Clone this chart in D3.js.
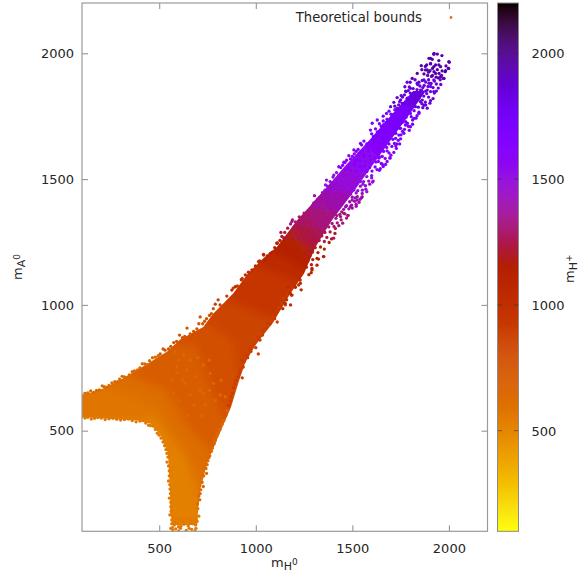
<!DOCTYPE html>
<html>
<head>
<meta charset="utf-8">
<script src="https://cdn.jsdelivr.net/npm/d3@7"></script>
<style>
body { margin: 0; background: #fff; }
text { font-family: "DejaVu Sans", sans-serif; fill: #262626; }
</style>
</head>
<body>
<svg id="main-vis" width="579" height="577"></svg>
<script>
var xTicks = [500, 1000, 1500, 2000];
var yTicks = [500, 1000, 1500, 2000];
var legendLabel = "Theoretical bounds";

// solid part of the cloud [mH0, mA0]
var massOutline = [[100,640],[209,668],[313,708],[416,755],[541,815],[608,862],[728,912],[779,965],[883,1045],[956,1122],[1039,1185],[1110,1231],[1215,1337],[1340,1443],[1460,1550],[1590,1656],[1710,1762],[1815,1850],[1880,1850],[1800,1762],[1700,1656],[1600,1550],[1500,1443],[1395,1337],[1310,1231],[1250,1125],[1175,1040],[1090,930],[1000,842],[945,770],[910,690],[872,594],[805,475],[750,375],[712,264],[700,170],[697,125],[570,125],[557,172],[556,252],[545,411],[508,483],[455,528],[385,540],[209,548],[100,553]];

// mH+ levels inside the solid part, each is the upper edge of that level
var levels = [1950, 1850, 1720, 1620, 1550, 1480, 1400, 1320, 1240, 1150, 1050, 950, 850, 780, 700, 620, 580, 530];
var levelEdges = [
  [[1000,2900],[2900,1000]],
  [[1490,2290],[2290,1490]],
  [[1400,2200],[2200,1400]],
  [[1290,2090],[2090,1290]],
  [[1210,2010],[2010,1210]],
  [[1120,1920],[1920,1120]],
  [[1050,1850],[1850,1050]],
  [[980,1780],[1780,980]],
  [[910,1710],[1710,910]],
  [[850,1650],[1650,850]],
  [[900,1300],[1300,1120]],
  [[100,1300],[997,1158],[1205,1099],[1300,1000]],
  [[100,1100],[842,1020],[1101,940],[1300,800]],
  [[100,1000],[738,932],[878,860],[920,680],[1000,500]],
  [[100,900],[556,841],[686,841],[790,622],[860,520],[1000,300]],
  [[100,760],[349,721],[531,662],[660,503],[764,423],[850,100]],
  [[100,700],[300,660],[480,600],[560,500],[640,420],[720,300],[760,100]],
  [[100,540],[420,545],[480,560],[560,470],[640,380],[700,250],[740,100]]
];

// single points, grouped by the mH+ their colour reads as
var pts1950 = [[1923,2000],[1940,1997],[1964,1991],[1897,1980],[1914,1976],[1948,1971],[2000,1967],[1885,1954],[1905,1958],[1931,1954],[1957,1947],[1997,1940],[1983,1931],[1879,1934],[1902,1931],[1923,1927],[1949,1920],[1871,1918],[1890,1912],[1910,1908],[1934,1905],[1962,1912],[1975,1900],
  [1922,1996],[1905,1980],[2002,1964],[1857,1951],[1999,1940],[1981,1927],[1971,1900],[1836,1920],[1810,1900],[1905,1960],[1922,1947],[1948,1954],[1888,1934],[1931,1920],[1957,1907],
  [1860,1935],[1878,1948],[1895,1925],[1915,1940],[1940,1935],[1965,1930],[1985,1950],[1915,1912],[1945,1902]];
var pts1850 = [[1955,1895],[1895,1895],[1925,1890],[1862,1892],[1880,1886],[1908,1880],[1935,1878],[1958,1876],[1838,1876],[1850,1870],[1872,1872],[1892,1868],[1918,1864],[1945,1862],[1795,1866],[1815,1860],[1835,1856],[1860,1852],[1880,1850],[1905,1848],[1925,1842],[1778,1848],[1800,1842],[1825,1838],[1848,1834],[1870,1830],[1895,1826],[1918,1820],[1760,1826],[1785,1822],[1808,1816],[1830,1812],[1852,1808],[1878,1806],[1902,1802],[1745,1808],[1770,1800],[1795,1796],[1818,1790],[1842,1786],[1865,1784],[1888,1782],
  [1784,1885],[1772,1867],[1776,1850],[1922,1848],[1753,1832],[1732,1824],[1715,1805],[1871,1794],[1862,1814],[1698,1788],[1871,1894],[1897,1881],[1922,1894],[1836,1881],[1853,1854],[1888,1854],[1801,1861],[1819,1834],[1845,1821],[1784,1821],[1758,1801],[1793,1795],[1827,1788],[1732,1781],
  [1800,1885],[1825,1895],[1845,1885],[1905,1868],[1935,1850],[1905,1812],[1885,1840],[1865,1864],[1770,1835],[1790,1852],[1750,1815],[1720,1790],[1740,1795],[1880,1795],[1860,1800]];
var pts1720 = [[1735,1776],[1720,1776],[1748,1772],[1772,1776],[1795,1768],[1820,1772],[1845,1766],[1700,1758],[1725,1752],[1752,1750],[1778,1746],[1805,1748],[1830,1742],[1680,1738],[1705,1730],[1732,1728],[1760,1726],[1785,1722],[1812,1718],[1662,1716],[1690,1712],[1715,1706],[1745,1702],[1770,1698],[1795,1694],[1645,1694],[1672,1690],[1698,1684],[1725,1682],[1752,1676],[1630,1672],[1655,1666],[1682,1662],[1710,1658],[1738,1654],[1608,1656],[1635,1648],[1662,1644],[1690,1640],[1718,1642],[1745,1640],
  [1845,1761],[1819,1741],[1801,1708],[1677,1761],[1660,1731],[1629,1735],[1603,1722],[1767,1682],[1741,1675],[1767,1768],[1801,1761],[1706,1755],[1741,1741],[1776,1728],[1689,1728],[1715,1708],[1750,1702],[1663,1695],[1698,1682],[1724,1662],[1594,1695],[1629,1688],[1655,1662],[1611,1649],[1560,1651],[1542,1642],
  [1690,1770],[1660,1750],[1640,1720],[1620,1700],[1600,1680],[1650,1710],[1675,1725],[1835,1752],[1812,1735],[1790,1710],[1775,1715],[1760,1690],[1750,1660],[1730,1640],[1640,1680],[1665,1665],[1610,1670]];
var pts1600 = [[1548,1636],[1572,1630],[1598,1634],[1625,1628],[1650,1632],[1678,1626],[1705,1630],[1728,1622],[1530,1618],[1555,1612],[1582,1610],[1608,1614],[1635,1606],[1662,1610],[1690,1604],[1715,1606],[1510,1600],[1535,1594],[1560,1590],[1590,1592],[1615,1586],[1642,1588],[1670,1582],[1695,1585],[1490,1580],[1515,1576],[1540,1572],[1568,1570],[1595,1566],[1622,1568],[1650,1562],[1672,1558],[1462,1566],[1485,1558],[1512,1555],[1538,1550],[1562,1552],[1590,1546],[1618,1548],[1645,1542],[1440,1546],[1465,1538],[1492,1535],[1520,1532],[1548,1534],[1575,1530],[1602,1532],[1628,1538],
  [1695,1583],[1655,1559],[1482,1593],[1456,1567],[1430,1549],[1508,1616],[1586,1622],[1629,1616],[1560,1596],[1594,1576],[1637,1583],[1525,1576],[1542,1549],[1577,1536],
  [1575,1640],[1520,1610],[1500,1590],[1470,1575],[1450,1555],[1680,1612],[1700,1595],[1680,1570],[1660,1550],[1640,1535],[1635,1570],[1655,1590],[1540,1605],[1510,1565],[1480,1545],[1725,1632]];
var pts1500 = [[1418,1526],[1442,1520],[1468,1516],[1495,1518],[1522,1512],[1548,1515],[1575,1510],[1600,1514],[1400,1508],[1425,1502],[1452,1498],[1478,1500],[1505,1494],[1530,1496],[1558,1490],[1585,1492],[1604,1488],[1385,1490],[1410,1484],[1436,1480],[1462,1482],[1490,1476],[1516,1478],[1542,1472],[1568,1474],[1372,1472],[1398,1466],[1424,1462],[1450,1464],[1476,1458],[1502,1460],[1528,1454],[1552,1456],[1575,1450],[1358,1456],[1385,1450],[1412,1452],
  [1608,1492],[1404,1516],[1366,1496],[1361,1477],[1499,1530],[1464,1510],[1508,1496],[1542,1490],[1430,1490],[1473,1463],[1508,1457],[1395,1463],
  [1430,1515],[1410,1495],[1390,1480],[1370,1460],[1440,1490],[1415,1470],[1590,1480],[1600,1505],[1570,1460],[1555,1480],[1520,1445]];
var pts1400 = [[1345,1446],[1370,1440],[1396,1436],[1422,1438],[1448,1432],[1474,1434],[1500,1428],[1526,1430],[1548,1426],[1330,1428],[1355,1422],[1382,1418],[1408,1420],[1434,1414],[1460,1416],[1486,1410],[1512,1412],[1535,1408],[1312,1412],[1338,1406],[1365,1402],[1392,1404],[1418,1398],[1444,1400],[1470,1394],[1496,1396],[1520,1392],[1295,1396],[1322,1390],[1348,1386],[1375,1388],[1402,1382],[1428,1384],[1455,1380],[1482,1382],
  [1551,1443],[1551,1430],[1525,1417],[1490,1390],[1304,1434],[1430,1443],[1465,1430],[1499,1417],[1361,1443],[1395,1417],[1430,1404],[1465,1390],[1335,1410],[1369,1390],[1309,1390],
  [1340,1435],[1320,1420],[1300,1405],[1350,1410],[1330,1395],[1540,1420],[1520,1400],[1500,1385],[1515,1425],[1490,1440]];
var pts1320 = [[1275,1376],[1302,1372],[1328,1368],[1355,1370],[1382,1364],[1408,1366],[1435,1360],[1462,1362],[1478,1356],[1255,1358],[1282,1352],[1308,1350],[1335,1346],[1362,1348],[1388,1342],[1415,1344],[1442,1338],[1236,1342],[1262,1336],[1290,1332],[1316,1334],[1342,1328],[1368,1330],[1395,1324],[1422,1326],[1190,1338],[1215,1326],[1244,1320],[1270,1316],[1298,1318],[1324,1312],[1350,1314],[1378,1310],[1405,1312],[1180,1322],[1200,1312],
  [1477,1355],[1456,1364],[1404,1370],[1439,1351],[1344,1364],[1378,1344],[1187,1331],
  [1250,1365],[1225,1350],[1205,1330],[1240,1330],[1265,1350],[1470,1345],[1450,1325],[1430,1315],[1445,1370],[1420,1355]];
var pts1240 = [[1165,1305],[1192,1300],[1220,1302],[1248,1296],[1275,1298],[1302,1292],[1330,1294],[1358,1288],[1385,1290],[1410,1284],[1150,1288],[1178,1284],[1205,1280],[1232,1282],[1260,1276],[1288,1278],[1315,1272],[1342,1274],[1368,1268],[1392,1262],[1135,1272],[1162,1266],[1190,1262],[1218,1264],[1245,1258],[1272,1260],[1300,1254],[1328,1256],[1355,1252],
  [1130,1288],[1144,1267],[1403,1265],[1412,1304]];
var pts1150 = [[1125,1256],[1380,1248],[1112,1246],[1140,1240],[1168,1242],[1196,1236],[1224,1238],[1252,1232],[1280,1234],[1308,1228],[1335,1230],[1355,1222],[1098,1228],[1126,1224],[1154,1222],[1182,1218],[1210,1220],[1238,1214],[1266,1216],[1294,1210],[1322,1208],[1352,1192],[1085,1210],[1112,1206],[1140,1204],[1168,1200],[1196,1202],[1224,1198],[1252,1200],[1280,1194],[1317,1185],[1295,1180],[1060,1195],[1048,1178],[1270,1175],[1288,1160],[1291,1139],[1262,1150],[1275,1120],
  [1109,1245],[1075,1205],[1040,1201],[1351,1192],[1325,1182],[1317,1158],[1291,1145],[1287,1128]];
var pts1050 = [[1041,1198],[1020,1175],[998,1155],[980,1139],[962,1130],[946,1119],[925,1100],[894,1072],[876,1059],[1231,1086],[1214,1112],[1188,1039],[1170,1072],[1235,1060],[1205,1070],[1160,1020],[1140,985],[1180,1000],
  [1014,1172],[1222,1079],[1230,1099],[1179,1046],[1184,1039],[1204,1072],[1153,1006]];
var pts900 = [[858,600],[872,635],[885,670],[898,700],[915,730],[930,710],[935,753],[925,780],[950,800],[965,825],[1013,805],[990,845],[1010,870],[1040,900],[1060,925],[1111,932],[1090,955],[1120,990],[1153,1000],[1140,1030],[790,1003],[805,1020],[815,1000],[850,1035],[883,1067],[905,1075],[930,1105],
  [868,618],[880,650],[892,685],[908,715],[922,745],[940,775],[958,790],[975,815],[1000,830],[1022,860],[1035,880],[1052,910],[1075,925],[1098,945],[1110,975],[1130,1005],[1150,1025],[1165,1040]];
var pts750 = [[505,805],[530,820],[560,835],[590,855],[620,870],[644,908],[660,885],[695,905],[712,952],[725,925],[745,945],[770,965],[845,560],
  [520,825],[548,825],[575,850],[605,880],[632,875],[678,895],[705,925],[735,935],[760,958],[780,985]];
var pts640 = [[100,640],[130,650],[160,652],[190,662],[215,675],[240,680],[270,695],[295,705],[320,714],[345,722],[372,738],[400,750],[425,765],[450,778],[480,792],[698,210],[705,240],[715,265],[722,295],[730,320],[742,350],[752,380],[762,400],[775,430],[790,460],[805,490],[825,525],
  [115,648],[145,658],[175,660],[205,678],[228,672],[255,690],[285,695],[308,716],[335,712],[360,735],[388,742],[412,766],[438,762],[465,790],[495,798],
  [735,350],[748,365],[757,392],[770,418],[785,448],[798,478],[815,505],[835,540],[850,580],[710,225],[712,250],[728,278],[745,330]];
var speckles = [[582,814],[626,801],[591,754],[643,741],[565,701],[634,688],[686,715],[729,761],[764,728],[816,642],[729,648],[660,642],[574,648],[781,688],[738,602],[842,635],[600,780],[660,780],[700,790],[760,780],[620,700],[710,660],[600,620],[680,600],[790,620],[760,660],[650,560],[720,560],[590,730],[820,700]];
var pts560 = [[100,556],[130,553],[165,549],[200,550],[240,547],[280,545],[320,544],[360,540],[400,538],[430,530],[455,520],[480,505],[500,482],[520,455],[535,425],[545,395],[548,360],[552,320],[555,285],[558,250],[560,215],[562,180],[565,145],[568,115],[570,105],[585,110],[600,102],[640,104],[668,108],[685,102],[578,125],[595,130],[612,120],[628,128],[650,122],[672,130],[688,125],[585,150],[605,148],[625,145],[645,150],[665,146],[690,150],
  [115,550],[148,546],[182,552],[220,544],[260,549],[300,542],[340,546],[380,535],[415,540],[445,522],[470,518],[490,490],[510,470],[528,440],[540,410],[540,375],[552,340],[548,300],[556,268],[552,232],[560,198],[555,165],[565,130],[560,112],
  [700,190],[696,140],[690,112],[705,160],[610,112],[655,112],[580,135],[620,138],[660,136],[682,140],[600,118]];

var pointGroups = [
  {value: 560, points: pts560}, {value: 640, points: pts640}, {value: 750, points: pts750},
  {value: 640, points: speckles}, {value: 900, points: pts900}, {value: 1050, points: pts1050},
  {value: 1150, points: pts1150}, {value: 1240, points: pts1240}, {value: 1320, points: pts1320},
  {value: 1400, points: pts1400}, {value: 1500, points: pts1500}, {value: 1600, points: pts1600},
  {value: 1720, points: pts1720}, {value: 1850, points: pts1850}, {value: 1950, points: pts1950}
];

var svg = d3.select("#main-vis");

var x = d3.scaleLinear().domain([100, 2200]).range([82, 487.5]);
var y = d3.scaleLinear().domain([100, 2200]).range([531.3, 3]);

// gnuplot palette rgbformulae 7,5,15, reversed
function palette(v) {
  var t = (2200 - v) / 2100;
  var r = Math.sqrt(t);
  var g = t * t * t;
  var b = Math.max(0, Math.sin(2 * Math.PI * t));
  return d3.rgb(r * 255, g * 255, b * 255).formatRgb();
}

var defs = svg.append("defs");
defs.append("clipPath").attr("id", "mass-clip")
  .append("path").attr("d", d3.line().x(d => x(d[0])).y(d => y(d[1]))(massOutline) + "Z");
defs.append("filter").attr("id", "level-blur")
  .attr("filterUnits", "userSpaceOnUse").attr("x", 0).attr("y", 0).attr("width", 579).attr("height", 577)
  .append("feGaussianBlur").attr("stdDeviation", 4);
defs.append("filter").attr("id", "soft")
  .attr("filterUnits", "userSpaceOnUse").attr("x", 0).attr("y", 0).attr("width", 579).attr("height", 577)
  .append("feGaussianBlur").attr("stdDeviation", 0.35);
defs.append("clipPath").attr("id", "plot-clip")
  .append("rect").attr("x", x(100)).attr("y", y(2200)).attr("width", x(2200) - x(100)).attr("height", y(100) - y(2200));

// solid part
var levelGroup = svg.append("g").attr("clip-path", "url(#mass-clip)")
  .append("g").attr("filter", "url(#level-blur)");
levels.forEach(function (level, i) {
  var edge = levelEdges[i].concat([[levelEdges[i][levelEdges[i].length - 1][0], 0], [0, 0], [0, levelEdges[i][0][1]]]);
  levelGroup.append("path")
    .attr("d", d3.line().x(d => x(d[0])).y(d => y(d[1]))(edge) + "Z")
    .attr("fill", palette(level));
});

// single points
var dots = svg.append("g").attr("clip-path", "url(#plot-clip)")
  .append("g").attr("filter", "url(#soft)");
pointGroups.forEach(function (group) {
  dots.selectAll(null)
    .data(group.points)
    .enter()
    .append("circle")
      .attr("cx", d => x(d[0]))
      .attr("cy", d => y(d[1]))
      .attr("r", 1.65)
      .attr("fill", palette(group.value));
});

// frame and ticks
function styleAxis(g) {
  g.select(".domain").remove();
  g.selectAll("line").attr("stroke", "#8c8c8c").attr("stroke-width", 1);
  g.selectAll("text").style("font-size", "13px").attr("fill", "#262626");
}
svg.append("g").attr("transform", "translate(0," + y(100) + ")")
  .call(d3.axisBottom(x).tickValues(xTicks).tickSizeInner(-6).tickPadding(12).tickFormat(d3.format("d")))
  .call(styleAxis);
svg.append("g").attr("transform", "translate(0," + y(2200) + ")")
  .call(d3.axisTop(x).tickValues(xTicks).tickSizeInner(-6).tickFormat(""))
  .call(styleAxis);
svg.append("g").attr("transform", "translate(" + x(100) + ",0)")
  .call(d3.axisLeft(y).tickValues(yTicks).tickSizeInner(-6).tickPadding(8).tickFormat(d3.format("d")))
  .call(styleAxis);
svg.append("g").attr("transform", "translate(" + x(2200) + ",0)")
  .call(d3.axisRight(y).tickValues(yTicks).tickSizeInner(-6).tickFormat(""))
  .call(styleAxis);
svg.append("rect")
  .attr("x", x(100)).attr("y", y(2200))
  .attr("width", x(2200) - x(100)).attr("height", y(100) - y(2200))
  .attr("fill", "none").attr("stroke", "#9a9a9a").attr("stroke-width", 1.2);

// legend
svg.append("text").attr("x", 422).attr("y", 22).attr("text-anchor", "end")
  .style("font-size", "13.2px").text(legendLabel);
svg.append("circle").attr("cx", 451).attr("cy", 17.5).attr("r", 1.4).attr("fill", "#e0702a");

// colour box
var colorBar = svg.append("g");
colorBar.selectAll("rect")
  .data(d3.range(100, 2200, 4))
  .enter()
  .append("rect")
    .attr("x", 497.5)
    .attr("y", d => y(d + 4))
    .attr("width", 21)
    .attr("height", d => y(d) - y(d + 4) + 0.5)
    .attr("fill", d => palette(d + 2));
colorBar.append("rect")
  .attr("x", 497.5).attr("y", y(2200)).attr("width", 21).attr("height", y(100) - y(2200))
  .attr("fill", "none").attr("stroke", "#8c8c8c").attr("stroke-width", 1);
colorBar.selectAll(".cb-left")
  .data(yTicks).enter().append("line").attr("class", "cb-left")
    .attr("x1", 497.5).attr("x2", 502).attr("y1", d => y(d)).attr("y2", d => y(d))
    .attr("stroke", "#333").attr("stroke-opacity", 0.55);
colorBar.selectAll(".cb-right")
  .data(yTicks).enter().append("line").attr("class", "cb-right")
    .attr("x1", 514).attr("x2", 518.5).attr("y1", d => y(d)).attr("y2", d => y(d))
    .attr("stroke", "#333").attr("stroke-opacity", 0.55);
colorBar.selectAll(".cb-label")
  .data(yTicks).enter().append("text").attr("class", "cb-label")
    .attr("x", 531.5).attr("y", d => y(d) + 5)
    .style("font-size", "13px")
    .text(d => d);

// axis titles with sub and superscripts
function massLabel(sel, sub, sup) {
  sel.style("font-size", "13px");
  sel.append("tspan").text("m");
  sel.append("tspan").attr("dy", 3).style("font-size", "11px").text(sub);
  sel.append("tspan").attr("dy", -5).style("font-size", "9px").text(sup);
}
svg.append("text").attr("x", 271).attr("y", 567).call(massLabel, "H", "0");
svg.append("text").attr("transform", "translate(22,280) rotate(-90)").call(massLabel, "A", "0");
svg.append("text").attr("transform", "translate(574,283) rotate(-90)").call(massLabel, "H", "+");
</script>
</body>
</html>
